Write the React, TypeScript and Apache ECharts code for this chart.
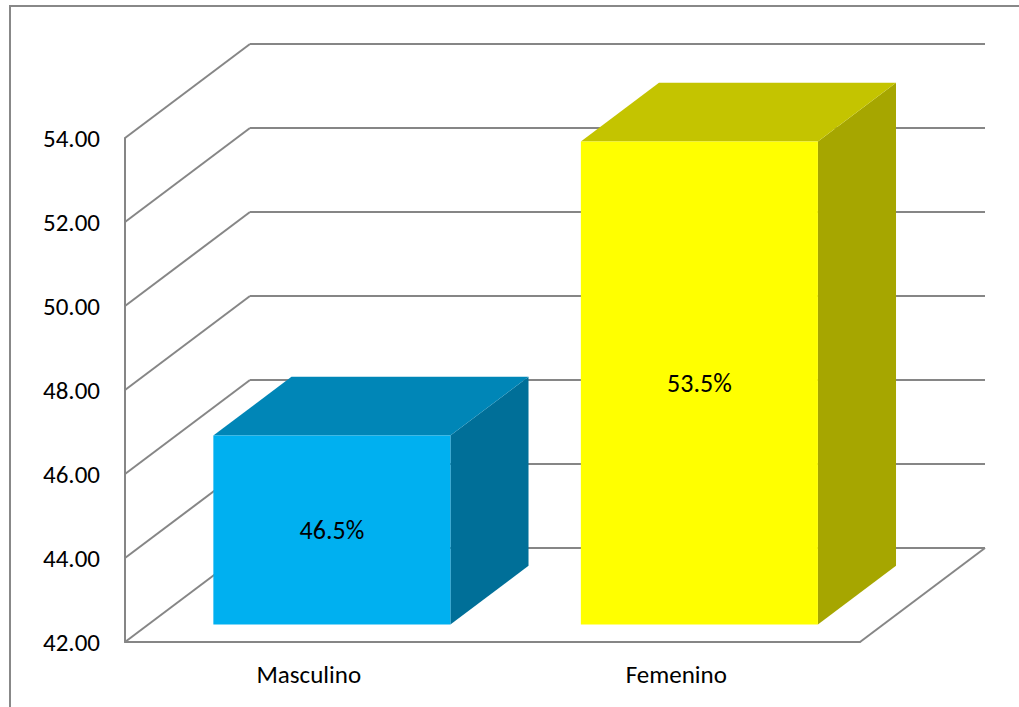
import React, { useEffect, useRef } from "react";
import * as echarts from "echarts";

const categories = ["Masculino", "Femenino"];
const values = [46.5, 53.5];
const valueLabels = ["46.5%", "53.5%"];
const yTicks = [42, 44, 46, 48, 50, 52, 54];
const frontColors = ["#00B0F0", "#FFFF00"];
const topColors = ["#0086B7", "#C4C400"];
const sideColors = ["#006F98", "#A6A600"];

const Y_MIN = 42;
const Y_MAX = 54;
const Y_STEP = 2;
const DX = 125;
const DY = 94;
const F1 = 0.185;
const F2 = 0.81;
const BAR_RATIO = 0.645;
const LINE = "#868686";
const FONT = "Carlito, Lato, 'Open Sans', sans-serif";

export default function App() {
  const ref = useRef<HTMLDivElement>(null);

  useEffect(() => {
    if (!ref.current) return;
    const chart = echarts.init(ref.current, undefined, { renderer: "svg" });
    const lineStyle = { stroke: LINE, lineWidth: 2 };

    chart.setOption({
      animation: false,
      backgroundColor: "#ffffff",
      graphic: [
        {
          type: "rect",
          shape: { x: 10, y: 6, width: 1040, height: 740 },
          style: { fill: "none", stroke: "#888888", lineWidth: 2 },
          silent: true,
        },
      ],
      grid: { left: 125, right: 159, top: 138, bottom: 65, containLabel: false },
      xAxis: {
        type: "category",
        data: categories,
        boundaryGap: true,
        axisLine: { show: true, lineStyle: { color: LINE, width: 2 } },
        axisTick: { show: false },
        axisLabel: { fontSize: 25, color: "#000", margin: 20, fontFamily: FONT },
        splitLine: { show: false },
      },
      yAxis: {
        type: "value",
        min: Y_MIN,
        max: Y_MAX,
        interval: Y_STEP,
        axisLine: { show: true, lineStyle: { color: LINE, width: 2 } },
        axisTick: { show: false },
        splitLine: { show: false },
        axisLabel: {
          fontSize: 25,
          color: "#000",
          margin: 25,
          fontFamily: FONT,
          formatter: (v: number) => v.toFixed(2),
        },
      },
      series: [
        {
          type: "custom",
          coordinateSystem: "cartesian2d",
          silent: true,
          clip: false,
          z: 1,
          data: yTicks.map((t) => [0, t]),
          encode: { x: 0, y: 1 },
          renderItem: (params: any, api: any) => {
            const cs = params.coordSys;
            const v = api.value(1);
            const y = api.coord([0, v])[1];
            const x0 = cs.x;
            const x1 = cs.x + cs.width;
            const children: any[] = [
              { type: "line", shape: { x1: x0, y1: y, x2: x0 + DX, y2: y - DY }, style: lineStyle },
              { type: "line", shape: { x1: x0 + DX, y1: y - DY, x2: x1 + DX, y2: y - DY }, style: lineStyle },
            ];
            if (v === Y_MIN) {
              children.push({ type: "line", shape: { x1: x1, y1: y, x2: x1 + DX, y2: y - DY }, style: lineStyle });
            }
            return { type: "group", children };
          },
        },
        {
          type: "custom",
          coordinateSystem: "cartesian2d",
          silent: true,
          clip: false,
          z: 2,
          data: values.map((v, i) => [i, v]),
          encode: { x: 0, y: 1 },
          renderItem: (params: any, api: any) => {
            const i = params.dataIndex;
            const v = api.value(1);
            const p = api.coord([api.value(0), v]);
            const cx = p[0];
            const yTop = p[1];
            const yBase = api.coord([api.value(0), Y_MIN])[1];
            const band = api.size([1, 0])[0];
            const w = band * BAR_RATIO;
            const left = cx - w / 2 + F1 * DX;
            const right = left + w;
            const top = yTop - F1 * DY;
            const bottom = yBase - F1 * DY;
            const ddx = (F2 - F1) * DX;
            const ddy = (F2 - F1) * DY;
            return {
              type: "group",
              children: [
                {
                  type: "polygon",
                  shape: { points: [[right, top], [right + ddx, top - ddy], [right + ddx, bottom - ddy], [right, bottom]] },
                  style: { fill: sideColors[i] },
                },
                {
                  type: "polygon",
                  shape: { points: [[left, top], [right, top], [right + ddx, top - ddy], [left + ddx, top - ddy]] },
                  style: { fill: topColors[i] },
                },
                {
                  type: "rect",
                  shape: { x: left, y: top, width: w, height: bottom - top },
                  style: { fill: frontColors[i] },
                },
                {
                  type: "text",
                  x: (left + right) / 2,
                  y: (top + bottom) / 2,
                  style: {
                    text: valueLabels[i],
                    fill: "#000",
                    fontSize: 26,
                    fontFamily: FONT,
                    align: "center",
                    verticalAlign: "middle",
                  },
                },
              ],
            };
          },
        },
      ],
    });

    return () => chart.dispose();
  }, []);

  return (
    <div
      ref={ref}
      style={{ position: "fixed", left: 0, top: 0, width: 1019, height: 707, background: "#fff" }}
    />
  );
}
